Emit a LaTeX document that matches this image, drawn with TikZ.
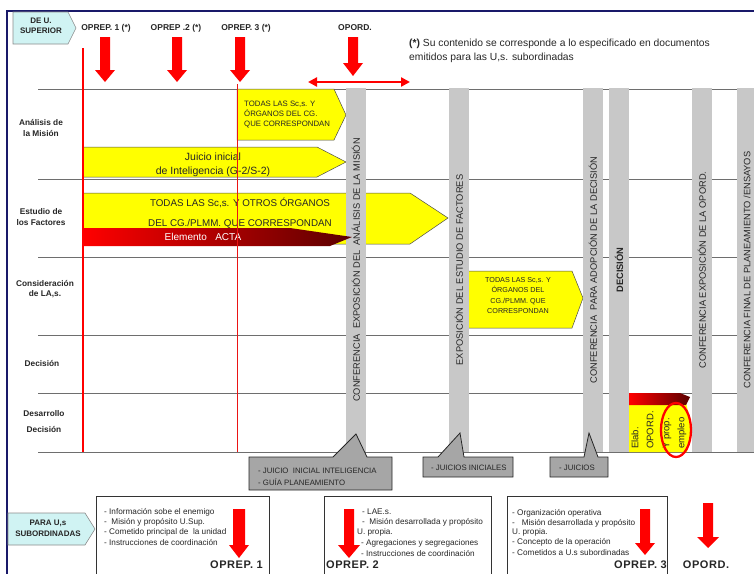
\documentclass[tikz,border=0pt]{standalone}
\usepackage{fontspec}
\setmainfont{Liberation Sans}
\usetikzlibrary{arrows.meta}

\definecolor{navy}{RGB}{25,25,105}
\definecolor{barg}{RGB}{200,200,200}
\definecolor{callg}{RGB}{166,166,166}
\definecolor{cyanbox}{RGB}{208,243,243}
\definecolor{yel}{RGB}{255,255,0}
\definecolor{rowl}{RGB}{110,110,110}
\definecolor{deepred}{RGB}{90,0,0}
\definecolor{thinred}{RGB}{235,20,20}

% block arrow pointing down: x, top, start of head, tip, shaft half width, head half width
\newcommand{\RedDown}[6]{%
  \fill[red] (#1-#5,#2) -- (#1+#5,#2) -- (#1+#5,#3) -- (#1+#6,#3) -- (#1,#4)
    -- (#1-#6,#3) -- (#1-#5,#3) -- cycle;}

\newcommand{\fsz}[2]{\fontsize{#1}{#2}\selectfont}

\begin{document}
\begin{tikzpicture}[x=1pt,y=-1pt,
  every node/.style={inner sep=0pt, text=black!85},
  rowline/.style={draw=rowl, line width=0.9pt},
  yarrow/.style={fill=yel, draw=black!70, line width=0.5pt},
  tagshape/.style={fill=cyanbox, draw=black!45, line width=0.6pt},
  callout/.style={fill=callg, draw=black!85, line width=0.8pt},
  docbox/.style={draw=black!80, line width=0.8pt},
  bar/.style={fill=barg},
  bartext/.style={rotate=90, font=\fsz{9.3}{10}},
  rowlabel/.style={font=\bfseries\fsz{8.3}{11}, align=center},
  hdr/.style={font=\bfseries\fsz{8.5}{10}},
  blab/.style={font=\bfseries\fsz{11}{12}\addfontfeature{LetterSpace=5}},
  boxtxt/.style={anchor=west, font=\fsz{8.2}{10}},
  calltxt/.style={anchor=west, font=\fsz{7.8}{10}},
  elab/.style={rotate=90, anchor=west, font=\fsz{9.5}{10}},
]
\useasboundingbox (0,0) rectangle (754,573);
\clip (0,0) rectangle (754,573);

% outer frame
\draw[navy, line width=2.5pt] (7,590) -- (7,11) -- (770,11);

% upper tag
\draw[tagshape] (13,12) -- (68,12) -- (76,28) -- (68,44) -- (13,44) -- cycle;
\node[font=\bfseries\fsz{8}{10}, align=center] (deu) at (41,25.5) {DE U.\\SUPERIOR};

% headers and their arrows
\node[hdr] (op1) at (106,28) {OPREP. 1 (*)};
\node[hdr] (op2) at (176,28) {OPREP .2 (*)};
\node[hdr] (op3) at (246,28) {OPREP. 3 (*)};
\node[hdr] (opord) at (355,28) {OPORD.};
\RedDown{105}{37}{70}{82}{5}{10}
\RedDown{177}{37}{70}{82}{5}{10}
\RedDown{240}{37}{70}{82}{5}{10}
\RedDown{353}{37}{63}{76}{5}{10}

% time span arrow
\coordinate (spanl) at (308,82);
\coordinate (spanr) at (410,82);
\draw[red, line width=2.5pt, {Triangle[length=9pt,width=9pt]}-{Triangle[length=9pt,width=9pt]}] (spanl) -- (spanr);

% footnote
\node[anchor=north west, align=left, font=\fsz{10.3}{14}] (note) at (409,39)
  {{\bfseries (*)} Su contenido se corresponde a lo especificado en documentos\\emitidos para las U,s. subordinadas};

% row separators
\foreach \y in {89,179,257,335,393,452}
  \draw[rowline] (38,\y) -- (770,\y);

% row labels
\node[rowlabel] (r1) at (41,127.5) {Análisis de\\la Misión};
\node[rowlabel] (r2) at (41,217.5) {Estudio de\\los Factores};
\node[rowlabel, font=\bfseries\fsz{8.3}{10}] (r3) at (45,289) {Consideración\\de LA,s.};
\node[rowlabel] (r4) at (42,363) {Decisión};
\node[rowlabel, font=\bfseries\fsz{8.3}{16}] (r5) at (44,422) {Desarrollo\\Decisión};

% yellow work arrows
\draw[yarrow] (237,89) -- (334,89) -- (346,115) -- (334,140) -- (237,140) -- cycle;
\node[anchor=west, align=left, font=\fsz{7.8}{10}] (ya1) at (244,115)
  {TODAS LAS Sc,s. Y\\ÓRGANOS DEL CG.\\QUE CORRESPONDAN};
\draw[yarrow] (83,147) -- (317,147) -- (346,162) -- (317,177) -- (83,177) -- cycle;
\node[align=center, font=\fsz{10.5}{14}] (ya2) at (213,165)
  {Juicio inicial\\de Inteligencia (G-2/S-2)};
\draw[yarrow] (83,193) -- (410,193) -- (448,218) -- (410,244) -- (83,244) -- cycle;
\node[align=center, font=\fsz{9.8}{20}] (ya3) at (240,213)
  {TODAS LAS Sc,s. Y OTROS ÓRGANOS\\DEL CG./PLMM. QUE CORRESPONDAN};
\draw[yarrow] (468,271) -- (572,271) -- (583,298) -- (572,328) -- (468,328) -- cycle;
\node[align=center, font=\fsz{7.2}{10.3}] (ya4) at (518,295.5)
  {TODAS LAS Sc,s. Y\\ÓRGANOS DEL\\CG./PLMM. QUE\\CORRESPONDAN};

% milestone bars
\fill[bar] (346,88) rectangle (366,452);
\fill[bar] (449,88) rectangle (469,452);
\fill[bar] (583,88) rectangle (603,452);
\fill[bar] (609,88) rectangle (629,452);
\fill[bar] (692,88) rectangle (712,452);
\fill[bar] (737,88) rectangle (757,452);
\node[bartext] (m1) at (356,270) {CONFERENCIA\ \ EXPOSICIÓN DEL\ \ ANÁLISIS DE LA MISIÓN};
\node[bartext] (m2) at (459,270) {EXPOSICIÓN DEL ESTUDIO DE FACTORES};
\node[bartext] (m3) at (593,270) {CONFERENCIA\ \ PARA ADOPCIÓN DE LA DECISIÓN};
\node[bartext, font=\bfseries\fsz{9.3}{10}] (m4) at (619,270) {DECISIÓN};
\node[bartext] (m5) at (702,270) {CONFERENCIA EXPOSICIÓN DE LA OPORD.};
\node[bartext] (m6) at (747,270) {CONFERENCIA FINAL DE PLANEAMIENTO\ /ENSAYOS};

% element arrow
\shade[left color=red, middle color=red, right color=deepred]
  (83,228) -- (290,228) -- (352,237) -- (330,246) -- (83,246) -- cycle;
\node[text=white, font=\fsz{10}{12}] (acta) at (203,237) {Elemento\ \ \ ACTA};

% reference lines of the orders
\draw[red, line width=2.5pt] (83,48) -- (83,452);
\fill[thinred] (236.6,84) rectangle (238.4,452);

% order drafting block
\fill[yel] (629,403) -- (686,403) -- (692,427) -- (687,452) -- (629,452) -- cycle;
\shade[left color=red, middle color=red!85!black, right color=deepred]
  (629,393) -- (680,393) -- (690,397) -- (686,405) -- (629,405) -- cycle;
\node[elab] (e1) at (635,449) {Elab.};
\node[elab] (e2) at (650,449) {OPORD.};
\node[elab] (e3) at (667,449) {Y prop.};
\node[elab] (e4) at (682,449) {empleo};
\draw[red, line width=2.3pt] (676,430) ellipse [x radius=15, y radius=27];

% callouts
\draw[callout] (249,457) -- (333,457) -- (356,434) -- (367,457) -- (392,457) -- (392,490) -- (249,490) -- cycle;
\node[calltxt] (c1a) at (258,471) {- JUICIO\ \ INICIAL INTELIGENCIA};
\node[calltxt] (c1b) at (258,482) {- GUÍA PLANEAMIENTO};
\draw[callout] (423,457) -- (438,457) -- (460,433) -- (464,457) -- (513,457) -- (513,477) -- (423,477) -- cycle;
\node[calltxt] (c2) at (431,468) {- JUICIOS INICIALES};
\draw[callout] (550,457) -- (584,457) -- (589,433) -- (598,457) -- (608,457) -- (608,477) -- (550,477) -- cycle;
\node[calltxt] (c3) at (559,468) {- JUICIOS};

% lower tag
\draw[tagshape] (8,513) -- (85,513) -- (95,529) -- (85,545) -- (8,545) -- cycle;
\node[font=\bfseries\fsz{8}{11}, align=center] (para) at (48,528.5) {PARA U,s\\SUBORDINADAS};

% documents for subordinate units
\draw[docbox] (96,496) rectangle (269,590);
\node[boxtxt] (b1a) at (104,512) {- Información sobe el enemigo};
\node[boxtxt] (b1b) at (104,522.5) {-\ \ Misión y propósito U.Sup.};
\node[boxtxt] (b1c) at (104,532.5) {- Cometido principal de\ \ la unidad};
\node[boxtxt] (b1d) at (104,543) {- Instrucciones de coordinación};
\RedDown{239}{509}{545}{558}{6}{10}
\node[blab, anchor=east] (lo1) at (263,565) {OPREP. 1};

\draw[docbox] (324,496) rectangle (491,590);
\node[boxtxt] (b2a) at (362,512) {- LAE.s.};
\node[boxtxt] (b2b) at (362,522) {-\ \ Misión desarrollada y propósito};
\node[boxtxt] (b2c) at (357,532.5) {U. propia.};
\node[boxtxt] (b2d) at (361,543) {- Agregaciones y segregaciones};
\node[boxtxt] (b2e) at (361,553.5) {- Instrucciones de coordinación};
\RedDown{349}{509}{545}{558}{5}{11}
\node[blab, anchor=west] (lo2) at (326,565) {OPREP. 2};

\draw[docbox] (507,496) rectangle (667,590);
\node[boxtxt] (b3a) at (512,513) {- Organización operativa};
\node[boxtxt] (b3b) at (512,523) {-\ \ \ Misión desarrollada y propósito};
\node[boxtxt] (b3c) at (512,532.5) {U. propia.};
\node[boxtxt] (b3d) at (512,542.5) {- Concepto de la operación};
\node[boxtxt] (b3e) at (512,553) {- Cometidos a U.s subordinadas};
\RedDown{645}{509}{543}{555}{5}{10}
\node[blab, anchor=east] (lo3) at (667,565) {OPREP. 3};

\RedDown{708}{503}{537}{548}{5}{11}
\node[blab] (lo4) at (706,565) {OPORD.};
\end{tikzpicture}
\end{document}
